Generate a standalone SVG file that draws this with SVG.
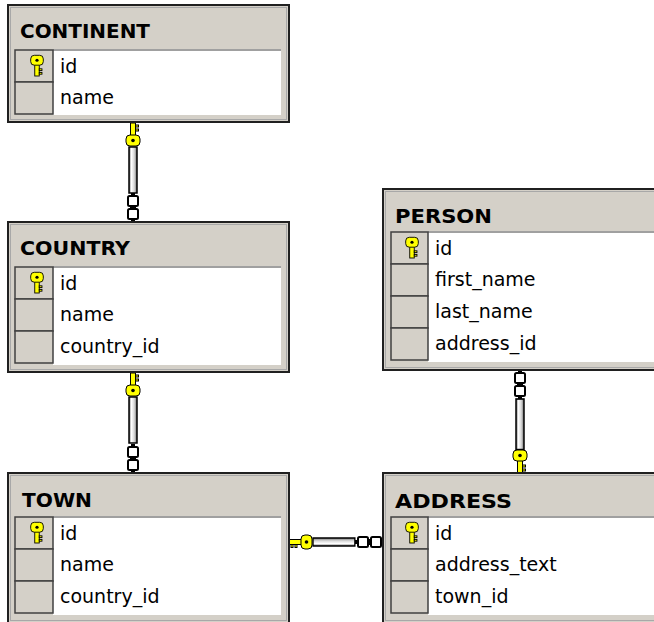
<svg xmlns="http://www.w3.org/2000/svg" width="654" height="622" viewBox="0 0 654 622">
<style>
.box{fill:#d4d0c8;stroke:#202020;stroke-width:2}
.inner{fill:none;stroke:#a8a8a8;stroke-width:1}
.white{fill:#ffffff}
.hdrline{stroke:#a0a0a0;stroke-width:2}
.cell{fill:#d4d0c8;stroke:#404040;stroke-width:1.5}
.title{font-family:"DejaVu Sans","Liberation Sans",sans-serif;font-weight:bold;font-size:20px;fill:#000}
.field{font-family:"DejaVu Sans","Liberation Sans",sans-serif;font-size:19px;fill:#000}
.keyfill{fill:#ffff00;stroke:#000;stroke-width:1}
.link{fill:#ffffff;stroke:#000;stroke-width:2}
</style>
<defs>
<linearGradient id="shaftV" x1="0" y1="0" x2="1" y2="0">
<stop offset="0" stop-color="#707070"/>
<stop offset="0.3" stop-color="#ffffff"/>
<stop offset="0.65" stop-color="#d8d8d8"/>
<stop offset="1" stop-color="#707070"/>
</linearGradient>
<g id="key">
<rect x="-2.5" y="0" width="5" height="13" class="keyfill"/>
<rect x="2.5" y="2" width="3" height="2" class="keyfill"/>
<rect x="2.5" y="6" width="3" height="2" class="keyfill"/>
<rect x="-7" y="12" width="14" height="11" rx="4" class="keyfill"/>
<circle cx="0" cy="17.5" r="1.8" fill="#000"/>
</g>
<g id="links">
<rect x="-2" y="0" width="4" height="3" fill="#000"/>
<rect x="-5" y="3" width="10" height="10" rx="1.5" class="link"/>
<rect x="-3" y="13" width="6" height="3" fill="#000"/>
<rect x="-5" y="16" width="10" height="10" rx="1.5" class="link"/>
<rect x="-2" y="26" width="4" height="3" fill="#000"/>
</g>
<g id="shaft">
<rect x="-4" y="0" width="8" height="46" fill="url(#shaftV)" stroke="#000" stroke-width="1.5"/>
</g>
<g id="pk">
<use href="#key" transform="scale(0.9,-0.9)"/>
</g>
</defs>

<g id="connectors">
<!-- CONTINENT - COUNTRY -->
<use href="#shaft" transform="translate(133,147)"/>
<use href="#key" transform="translate(133,123)"/>
<use href="#links" transform="translate(133,193)"/>
<!-- COUNTRY - TOWN -->
<use href="#shaft" transform="translate(133,397)"/>
<use href="#key" transform="translate(133,373)"/>
<use href="#links" transform="translate(133,444)"/>
<!-- PERSON - ADDRESS -->
<use href="#links" transform="translate(520,370)"/>
<use href="#shaft" transform="translate(520,399) scale(1,1.1)"/>
<use href="#key" transform="translate(520,473) scale(1,-1)"/>
<!-- TOWN - ADDRESS -->
<use href="#shaft" transform="translate(313,542) rotate(-90) scale(1,0.91)"/>
<use href="#key" transform="translate(289,542) rotate(-90) scale(-1,1)"/>
<use href="#links" transform="translate(355,542) rotate(-90)"/>
</g>

<g id="continent">
<rect class="box" x="8" y="5" width="281" height="117"/>
<rect class="inner" x="10.5" y="7.5" width="276" height="112"/>
<rect class="white" x="53" y="50" width="228" height="65"/>
<line class="hdrline" x1="53" y1="50" x2="281" y2="50"/>
<text class="title" x="20" y="38" textLength="130" lengthAdjust="spacingAndGlyphs">CONTINENT</text>
<rect class="cell" x="15" y="50" width="38" height="32"/>
<rect class="cell" x="15" y="82" width="38" height="32"/>
<use href="#pk" transform="translate(37,76)"/>
<text class="field" x="60" y="73">id</text>
<text class="field" x="60" y="104">name</text>
</g>

<g id="country">
<rect class="box" x="8" y="222" width="281" height="150"/>
<rect class="inner" x="10.5" y="224.5" width="276" height="145"/>
<rect class="white" x="53" y="267" width="228" height="98"/>
<line class="hdrline" x1="53" y1="267" x2="281" y2="267"/>
<text class="title" x="20" y="255" textLength="110" lengthAdjust="spacingAndGlyphs">COUNTRY</text>
<rect class="cell" x="15" y="267" width="38" height="32"/>
<rect class="cell" x="15" y="299" width="38" height="32"/>
<rect class="cell" x="15" y="331" width="38" height="32"/>
<use href="#pk" transform="translate(37,293)"/>
<text class="field" x="60" y="290">id</text>
<text class="field" x="60" y="321">name</text>
<text class="field" x="60" y="353">country_id</text>
</g>

<g id="town">
<rect class="box" x="8" y="473" width="281" height="150"/>
<rect class="inner" x="10.5" y="475.5" width="276" height="145"/>
<rect class="white" x="53" y="517" width="228" height="98"/>
<line class="hdrline" x1="53" y1="517" x2="281" y2="517"/>
<text class="title" x="22" y="507" textLength="70" lengthAdjust="spacingAndGlyphs">TOWN</text>
<rect class="cell" x="15" y="517" width="38" height="32"/>
<rect class="cell" x="15" y="549" width="38" height="32"/>
<rect class="cell" x="15" y="581" width="38" height="32"/>
<use href="#pk" transform="translate(37,543)"/>
<text class="field" x="60" y="540">id</text>
<text class="field" x="60" y="571">name</text>
<text class="field" x="60" y="603">country_id</text>
</g>

<g id="person">
<rect class="box" x="383" y="189" width="300" height="181"/>
<rect class="inner" x="385.5" y="191.5" width="300" height="176"/>
<rect class="white" x="428" y="232" width="260" height="130"/>
<line class="hdrline" x1="428" y1="232" x2="660" y2="232"/>
<text class="title" x="395" y="223" textLength="97" lengthAdjust="spacingAndGlyphs">PERSON</text>
<rect class="cell" x="391" y="232" width="37" height="32"/>
<rect class="cell" x="391" y="264" width="37" height="32"/>
<rect class="cell" x="391" y="296" width="37" height="32"/>
<rect class="cell" x="391" y="328" width="37" height="32"/>
<use href="#pk" transform="translate(412,258)"/>
<text class="field" x="435" y="255">id</text>
<text class="field" x="435" y="286">first_name</text>
<text class="field" x="435" y="318">last_name</text>
<text class="field" x="435" y="350">address_id</text>
</g>

<g id="address">
<rect class="box" x="383" y="473" width="300" height="150"/>
<rect class="inner" x="385.5" y="475.5" width="300" height="145"/>
<rect class="white" x="428" y="517" width="260" height="98"/>
<line class="hdrline" x1="428" y1="517" x2="660" y2="517"/>
<text class="title" x="395" y="508" textLength="117" lengthAdjust="spacingAndGlyphs">ADDRESS</text>
<rect class="cell" x="391" y="517" width="37" height="32"/>
<rect class="cell" x="391" y="549" width="37" height="32"/>
<rect class="cell" x="391" y="581" width="37" height="32"/>
<use href="#pk" transform="translate(412,543)"/>
<text class="field" x="435" y="540">id</text>
<text class="field" x="435" y="571">address_text</text>
<text class="field" x="435" y="603">town_id</text>
</g>
</svg>
